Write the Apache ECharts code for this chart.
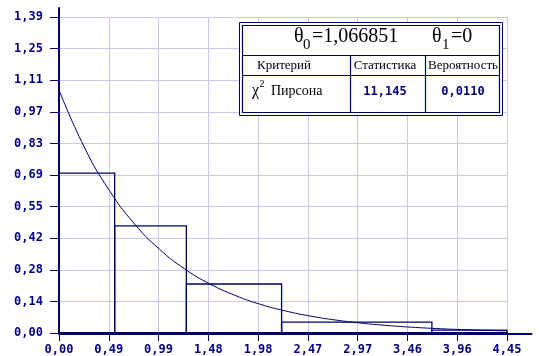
<!DOCTYPE html>
<html><head><meta charset="utf-8">
<script src="https://cdn.jsdelivr.net/npm/echarts@6/dist/echarts.min.js"></script>
<style>html,body{margin:0;padding:0;background:#fff}#c{width:539px;height:356px}</style>
</head><body><div id="c"></div>
<script>
// ---- data ----
const xTickLabels = ['0,00','0,49','0,99','1,48','1,98','2,47','2,97','3,46','3,96','4,45'];
const yTickLabels = ['0,00','0,14','0,28','0,42','0,55','0,69','0,83','0,97','1,11','1,25','1,39'];
const xMax = 4.45;
const yMax = 1.387;
const binLeft   = [0,     0.553, 1.265, 2.211, 3.704];
const binRight  = [0.553, 1.265, 2.211, 3.704, 4.449];
const binHeight = [0.702, 0.470, 0.215, 0.048, 0.013];
const curveX = [0, 0.25, 0.5, 0.75, 1.0, 1.25, 1.5, 1.75, 2.0, 2.25, 2.5, 2.75, 3.0, 3.25, 3.5, 3.75, 4.0, 4.25, 4.45];
const curveY = [1.067, 0.817, 0.626, 0.479, 0.367, 0.281, 0.215, 0.165, 0.126, 0.0968, 0.0741, 0.0568, 0.0435, 0.0333, 0.0255, 0.0195, 0.0150, 0.0115, 0.0093];
const theta0Text = '=1,066851';
const theta1Text = '=0';
const tableHeaders = ['Критерий', 'Статистика', 'Вероятность'];
const criterionName = 'Пирсона';
const statValue = '11,145';
const probValue = '0,0110';

// ---- styles ----
const NAVY = '#000080';
const LINE = '#000066';
const GRIDC = '#c8c8ee';
const MONO = '"DejaVu Sans Mono", monospace';
const SERIF = '"Liberation Serif", "DejaVu Serif", serif';
const xInt = xMax / 9;
const yInt = yMax / 10;

const chart = echarts.init(document.getElementById('c'), null, {renderer: 'canvas'});

const labelStyle = {fontFamily: MONO, fontWeight: 'bold', fontSize: 12, color: NAVY};

const option = {
  animation: false,
  backgroundColor: '#fff',
  grid: [
    {left: 59, top: 17, width: 448, height: 317},
    {left: 59, top: 8, width: 472.5, height: 326}
  ],
  xAxis: [
    {
      type: 'value', gridIndex: 0, min: 0, max: xMax, interval: xInt,
      axisLine: {show: true, lineStyle: {color: LINE, width: 2}},
      axisTick: {show: true, length: 8, lineStyle: {color: LINE, width: 1}},
      axisLabel: Object.assign({margin: 11, formatter: v => xTickLabels[Math.round(v / xInt)]}, labelStyle),
      splitLine: {show: true, lineStyle: {color: GRIDC, width: 1}}
    },
    {
      type: 'value', gridIndex: 1, min: 0, max: 1,
      axisLine: {show: true, lineStyle: {color: LINE, width: 2}},
      axisTick: {show: false}, axisLabel: {show: false}, splitLine: {show: false}
    }
  ],
  yAxis: [
    {
      type: 'value', gridIndex: 0, min: 0, max: yMax, interval: yInt,
      axisLine: {show: true, lineStyle: {color: LINE, width: 2}},
      axisTick: {show: true, length: 9, lineStyle: {color: LINE, width: 1}},
      axisLabel: Object.assign({margin: 16, formatter: v => yTickLabels[Math.round(v / yInt)]}, labelStyle),
      splitLine: {show: true, lineStyle: {color: GRIDC, width: 1}}
    },
    {
      type: 'value', gridIndex: 1, min: 0, max: 1,
      axisLine: {show: true, lineStyle: {color: LINE, width: 2}},
      axisTick: {show: false}, axisLabel: {show: false}, splitLine: {show: false}
    }
  ],
  series: [
    {
      type: 'custom', xAxisIndex: 0, yAxisIndex: 0, z: 3,
      data: binLeft.map((l, i) => [l, binRight[i], binHeight[i]]),
      renderItem: function (params, api) {
        const p0 = api.coord([api.value(0), api.value(2)]);
        const p1 = api.coord([api.value(1), 0]);
        return {
          type: 'rect',
          shape: {x: p0[0], y: p0[1], width: p1[0] - p0[0], height: p1[1] - p0[1]},
          style: {fill: 'rgba(0,0,0,0)', stroke: LINE, lineWidth: 1.3}
        };
      }
    },
    {
      type: 'line', xAxisIndex: 0, yAxisIndex: 0, z: 4,
      data: curveX.map((x, i) => [x, curveY[i]]),
      showSymbol: false, smooth: true,
      lineStyle: {color: LINE, width: 1}
    }
  ],
  graphic: [
    {type: 'rect', z: 100, shape: {x: 239.5, y: 22.5, width: 263, height: 93}, style: {fill: '#fff', stroke: LINE, lineWidth: 1}},
    {type: 'rect', z: 101, shape: {x: 242.5, y: 25.5, width: 257, height: 87}, style: {fill: 'rgba(0,0,0,0)', stroke: LINE, lineWidth: 1.2}},
    {type: 'line', z: 101, shape: {x1: 242.5, y1: 55.5, x2: 499.5, y2: 55.5}, style: {stroke: LINE, lineWidth: 1.2}},
    {type: 'line', z: 101, shape: {x1: 242.5, y1: 75.5, x2: 499.5, y2: 75.5}, style: {stroke: LINE, lineWidth: 1.2}},
    {type: 'line', z: 101, shape: {x1: 350.5, y1: 55.5, x2: 350.5, y2: 112.5}, style: {stroke: LINE, lineWidth: 1.2}},
    {type: 'line', z: 101, shape: {x1: 425.5, y1: 55.5, x2: 425.5, y2: 112.5}, style: {stroke: LINE, lineWidth: 1.2}},
    // title θ0=..., θ1=...
    {type: 'text', z: 102, x: 294, y: 37, style: {text: 'θ', font: '20px ' + SERIF, fill: '#000', textAlign: 'left', textVerticalAlign: 'middle'}},
    {type: 'text', z: 102, x: 303, y: 45, style: {text: '0', font: '15px ' + SERIF, fill: '#000', textAlign: 'left', textVerticalAlign: 'middle'}},
    {type: 'text', z: 102, x: 312, y: 37, style: {text: theta0Text, font: '20px ' + SERIF, fill: '#000', textAlign: 'left', textVerticalAlign: 'middle'}},
    {type: 'text', z: 102, x: 432, y: 37, style: {text: 'θ', font: '20px ' + SERIF, fill: '#000', textAlign: 'left', textVerticalAlign: 'middle'}},
    {type: 'text', z: 102, x: 442, y: 45, style: {text: '1', font: '15px ' + SERIF, fill: '#000', textAlign: 'left', textVerticalAlign: 'middle'}},
    {type: 'text', z: 102, x: 451, y: 37, style: {text: theta1Text, font: '20px ' + SERIF, fill: '#000', textAlign: 'left', textVerticalAlign: 'middle'}},
    // headers
    {type: 'text', z: 102, x: 284, y: 66, style: {text: tableHeaders[0], font: '13px ' + SERIF, fill: '#000', textAlign: 'center', textVerticalAlign: 'middle'}},
    {type: 'text', z: 102, x: 385, y: 66, style: {text: tableHeaders[1], font: '13px ' + SERIF, fill: '#000', textAlign: 'center', textVerticalAlign: 'middle'}},
    {type: 'text', z: 102, x: 463, y: 66, style: {text: tableHeaders[2], font: '13px ' + SERIF, fill: '#000', textAlign: 'center', textVerticalAlign: 'middle'}},
    // row
    {type: 'text', z: 102, x: 252, y: 91, style: {text: 'χ', font: '16px ' + SERIF, fill: '#000', textAlign: 'left', textVerticalAlign: 'middle'}},
    {type: 'text', z: 102, x: 259.5, y: 84, style: {text: '2', font: '10px ' + SERIF, fill: '#000', textAlign: 'left', textVerticalAlign: 'middle'}},
    {type: 'text', z: 102, x: 271, y: 91, style: {text: criterionName, font: '14px ' + SERIF, fill: '#000', textAlign: 'left', textVerticalAlign: 'middle'}},
    {type: 'text', z: 102, x: 385, y: 92, style: {text: statValue, font: 'bold 12px ' + MONO, fill: NAVY, textAlign: 'center', textVerticalAlign: 'middle'}},
    {type: 'text', z: 102, x: 463, y: 92, style: {text: probValue, font: 'bold 12px ' + MONO, fill: NAVY, textAlign: 'center', textVerticalAlign: 'middle'}}
  ]
};
chart.setOption(option);
</script>
</body></html>
